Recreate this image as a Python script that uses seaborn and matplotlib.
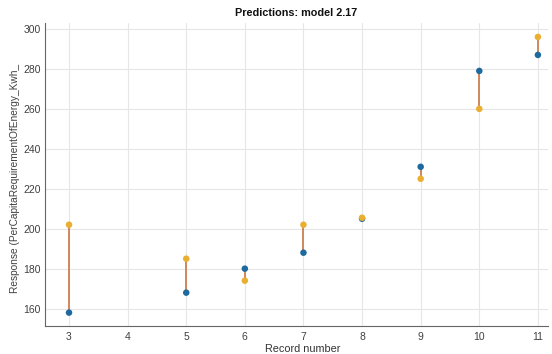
import matplotlib
matplotlib.use("Agg")
import matplotlib.pyplot as plt
import seaborn as sns
import pandas as pd

# Record numbers and their true / predicted responses
records = [3, 5, 6, 7, 8, 9, 10, 11]
true_resp = [158, 168, 180, 188, 205, 231, 279, 287]
pred_resp = [202, 185, 174, 202, 205.5, 225, 260, 296]

x_ticks = [3, 4, 5, 6, 7, 8, 9, 10, 11]
y_ticks = [160, 180, 200, 220, 240, 260, 280, 300]

sns.set_theme(style="white")
plt.rcParams["font.family"] = ["Liberation Sans", "DejaVu Sans"]

long = pd.concat([
    pd.DataFrame({"record": records, "value": true_resp, "kind": "True"}),
    pd.DataFrame({"record": records, "value": pred_resp, "kind": "Predicted"}),
], ignore_index=True)

fig = plt.figure(figsize=(5.52, 3.54), dpi=100)
ax = fig.add_axes([0.0815, 0.0791, 0.911, 0.856])

# error segments between true and predicted values
sns.lineplot(data=long, x="record", y="value", units="record", estimator=None,
             color="#CF7E4E", linewidth=1.3, ax=ax, legend=False, zorder=2)

sns.scatterplot(data=long, x="record", y="value", hue="kind",
                palette={"True": "#1E6A9E", "Predicted": "#EAAE30"},
                s=22, linewidth=0, ax=ax, legend=False, zorder=3)

ax.set_xlim(2.59, 11.17)
ax.set_ylim(151.3, 303)
ax.set_xticks(x_ticks)
ax.set_yticks(y_ticks)
ax.grid(True, color="#e6e6e6", linewidth=0.8)
ax.set_axisbelow(True)

for side in ("top", "right"):
    ax.spines[side].set_visible(False)
for side in ("left", "bottom"):
    ax.spines[side].set_color("#666666")
    ax.spines[side].set_linewidth(0.8)

ax.tick_params(direction="in", length=3, width=0.6, colors="#777777",
               labelsize=7.5, labelcolor="#404040", pad=4)
ax.tick_params(axis="y", pad=3)

ax.set_xlabel("Record number", fontsize=7.8, color="#333333")
ax.xaxis.set_label_coords((303 - 45) / 503, -0.058)
ax.set_ylabel("Response (PerCapitaRequirementOfEnergy_Kwh_", fontsize=7.3,
              color="#404040")
ax.yaxis.set_label_coords(-0.05, 0.488)
ax.set_title("Predictions: model 2.17", fontsize=7.8, fontweight="bold",
             color="#111111", pad=5)

fig.savefig("out.png", dpi=100)
